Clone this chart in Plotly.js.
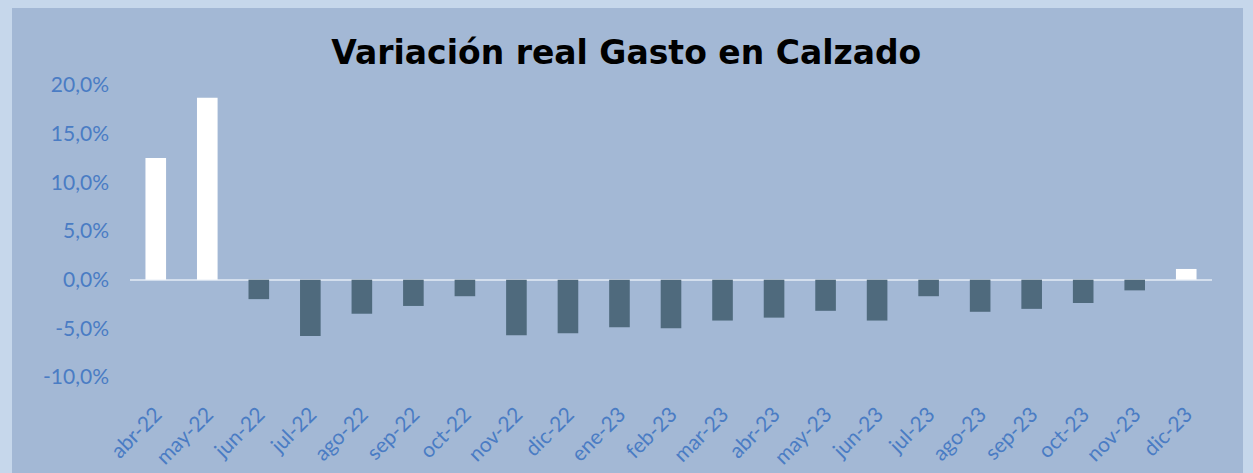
<!DOCTYPE html>
<html>
<head>
<meta charset="utf-8">
<script src="https://cdn.plot.ly/plotly-3.0.1.min.js"></script>
<style>
  html, body { margin: 0; padding: 0; background: #C6D7EB; width: 1253px; height: 473px; overflow: hidden; }
  #chart { position: absolute; left: 12px; top: 8px; width: 1231px; height: 465px; }
</style>
</head>
<body>
<div id="chart"></div>
<script>
const categories = ["abr-22","may-22","jun-22","jul-22","ago-22","sep-22","oct-22","nov-22","dic-22",
  "ene-23","feb-23","mar-23","abr-23","may-23","jun-23","jul-23","ago-23","sep-23","oct-23","nov-23","dic-23"];
const variacion = [12.5, 18.7, -2.0, -5.8, -3.5, -2.7, -1.7, -5.7, -5.5,
  -4.9, -5.0, -4.2, -3.9, -3.2, -4.2, -1.7, -3.3, -3.0, -2.4, -1.1, 1.1];
const yTickVals = [-10, -5, 0, 5, 10, 15, 20];
const yTickText = ["-10,0%", "-5,0%", "0,0%", "5,0%", "10,0%", "15,0%", "20,0%"];

const POS = "#FFFFFF", NEG = "#4F6A7D";
const labelColor = "#4A7CC4";
const tickFont = { family: "Lato, 'Noto Sans', sans-serif", size: 21, color: labelColor };

const trace = {
  type: "bar",
  x: categories,
  y: variacion,
  marker: { color: variacion.map(v => v >= 0 ? POS : NEG), line: { width: 0 } },
  hoverinfo: "x+y"
};

const layout = {
  width: 1231, height: 465,
  paper_bgcolor: "#A3B8D5",
  plot_bgcolor: "#A3B8D5",
  margin: { l: 118, r: 31, t: 77, b: 96 },
  bargap: 0.6,
  showlegend: false,
  title: {
    text: "Variación real Gasto en Calzado",
    font: { family: "'DejaVu Sans', sans-serif", size: 33, color: "#000000", weight: "bold" },
    xref: "container", yref: "container",
    x: 0.499, y: 1 - 44 / 465, xanchor: "center", yanchor: "middle"
  },
  xaxis: {
    type: "category",
    range: [-0.5, categories.length - 0.5],
    tickangle: -45,
    tickfont: tickFont,
    ticks: "",
    ticklabelstandoff: 20,
    showgrid: false,
    showline: false,
    zeroline: false,
    fixedrange: true
  },
  yaxis: {
    range: [-10, 20],
    tickvals: yTickVals,
    ticktext: yTickText,
    tickfont: tickFont,
    ticks: "",
    ticklabelstandoff: 20,
    showgrid: false,
    showline: false,
    zeroline: true,
    zerolinecolor: "#D3DEED",
    zerolinewidth: 2,
    fixedrange: true
  }
};

Plotly.newPlot("chart", [trace], layout, { displayModeBar: false, responsive: false });
</script>
</body>
</html>
